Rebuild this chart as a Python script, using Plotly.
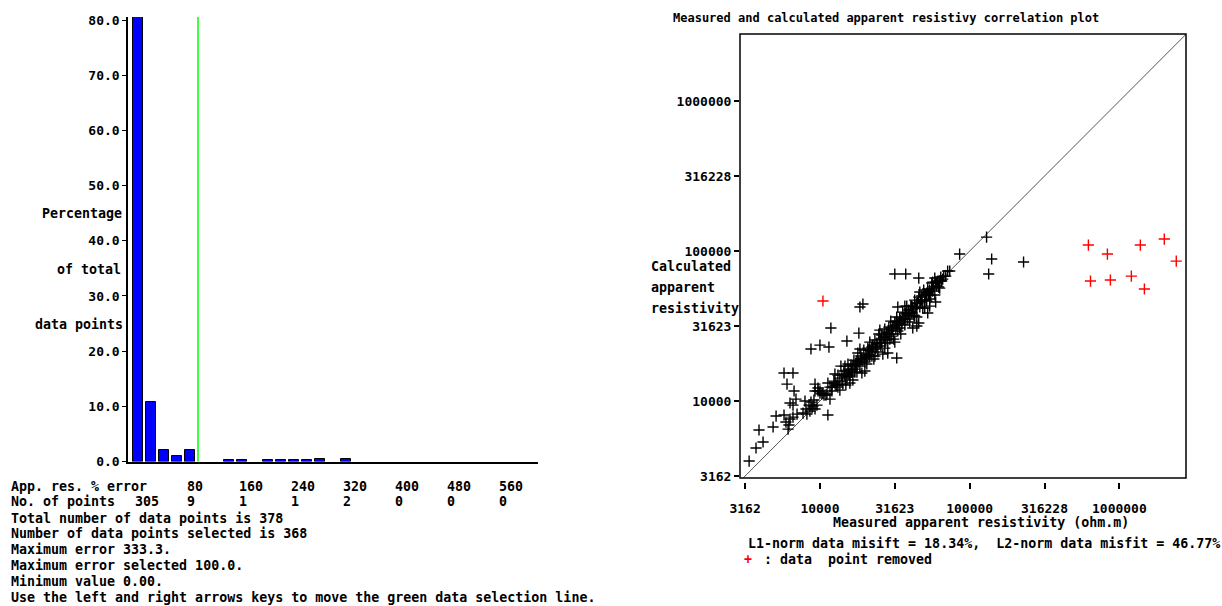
import plotly.graph_objects as go

W, H = 1222, 606
FONT = "DejaVu Sans Mono"

# ---------------- Histogram data (percentage of data points per 20% error bin)
bin_lower = [0, 20, 40, 60, 80, 140, 160, 200, 220, 240, 260, 280, 320]
bin_percent = [80.69, 10.85, 2.12, 1.06, 2.12, 0.26, 0.26, 0.26, 0.26, 0.26, 0.26, 0.53, 0.53]
bin_width = 20
y_ticks = [0, 10, 20, 30, 40, 50, 60, 70, 80]
error_labels = [80, 160, 240, 320, 400, 480, 560]
count_positions = [0, 80, 160, 240, 320, 400, 480, 560]
count_labels = ["305", "9", "1", "1", "2", "0", "0", "0"]
selection_error = 100

summary_lines = [
    "Total number of data points is 378",
    "Number of data points selected is 368",
    "Maximum error 333.3.",
    "Maximum error selected 100.0.",
    "Minimum value 0.00.",
    "Use the left and right arrows keys to move the green data selection line.",
]

# ---------------- Correlation plot data (log10 of apparent resistivity, ohm.m)
kept_measured_log10 = [
    3.527, 3.573, 3.620, 3.593, 3.687, 3.707, 3.760, 3.773, 3.800, 3.787, 3.793, 3.820, 3.847, 3.887,
    3.913, 3.933, 3.947, 3.967, 3.953, 3.980, 3.900, 3.800, 3.820, 3.840, 3.780, 3.827, 3.760, 3.820,
    3.940, 4.000, 4.060, 4.180, 4.260, 4.053, 4.073, 4.267, 4.287, 4.500, 4.573, 4.660, 4.513, 4.773,
    4.520, 4.660, 4.620, 4.720, 4.733, 4.820, 4.753, 4.933, 5.113, 5.147, 5.127, 5.360,
    3.907, 3.927, 3.940, 3.960, 3.967, 3.987, 4.000, 4.020, 4.047, 4.453, 4.647,
    3.967, 3.987, 4.000, 4.013, 4.027, 4.040, 4.053, 4.067, 4.080, 4.093,
    4.100, 4.107, 4.120, 4.120, 4.133, 4.140, 4.147, 4.153, 4.160, 4.167,
    4.173, 4.180, 4.187, 4.193, 4.200, 4.207, 4.213, 4.220, 4.227, 4.233,
    4.240, 4.247, 4.253, 4.260, 4.267, 4.273, 4.280, 4.287, 4.293, 4.300,
    4.307, 4.313, 4.320, 4.327, 4.333, 4.340, 4.347, 4.353, 4.360, 4.367,
    4.373, 4.380, 4.387, 4.393, 4.400, 4.407, 4.413, 4.420, 4.427, 4.433,
    4.440, 4.447, 4.453, 4.460, 4.467, 4.473, 4.480, 4.487, 4.493, 4.500,
    4.507, 4.513, 4.520, 4.527, 4.533, 4.540, 4.547, 4.553, 4.560, 4.567,
    4.573, 4.580, 4.587, 4.593, 4.600, 4.607, 4.613, 4.620, 4.627, 4.633,
    4.640, 4.647, 4.653, 4.660, 4.667, 4.673, 4.680, 4.687, 4.693, 4.700,
    4.707, 4.713, 4.720, 4.727, 4.733, 4.740, 4.747, 4.753, 4.760, 4.767,
    4.773, 4.780, 4.787, 4.793, 4.800, 4.807, 4.813, 4.827, 4.840, 4.853, 4.867,
    4.167, 4.193, 4.220, 4.247, 4.273, 4.300, 4.327, 4.353, 4.380, 4.407, 4.433,
    4.460, 4.487, 4.513, 4.540, 4.567, 4.593, 4.620, 4.647, 4.673, 4.700, 4.727,
    4.067, 4.100, 4.133, 4.167, 4.200, 4.233, 4.267, 4.300, 4.333, 4.367, 4.400, 4.433,
    4.467, 4.500, 4.533, 4.567, 4.600, 4.633, 4.667, 4.700, 4.733, 4.767, 4.800,
    4.080, 4.113, 4.147, 4.180, 4.213, 4.247, 4.280, 4.313, 4.347, 4.380, 4.413,
    4.447, 4.480, 4.513, 4.547, 4.580, 4.613, 4.647, 4.680, 4.713, 4.747, 4.780,
]
kept_calculated_log10 = [
    3.600, 3.687, 3.727, 3.807, 3.827, 3.900, 3.907, 3.860, 3.880, 3.813, 3.840, 3.893, 3.913, 3.920,
    3.913, 3.933, 3.953, 3.947, 3.967, 3.973, 4.000, 3.987, 3.973, 4.013, 4.113, 4.067, 4.187, 4.187,
    4.347, 4.373, 4.360, 4.400, 4.453, 3.907, 4.487, 4.627, 4.647, 4.847, 4.847, 4.820, 4.287, 4.660,
    4.627, 4.520, 4.487, 4.587, 4.633, 4.813, 4.793, 4.980, 5.093, 4.947, 4.847, 4.927,
    3.947, 3.973, 3.993, 4.007, 4.113, 4.087, 4.067, 4.053, 4.047, 4.320, 4.500,
    4.067, 4.067, 4.053, 4.047, 4.040, 4.040, 4.120, 4.093, 4.067, 4.133,
    4.180, 4.107, 4.093, 4.173, 4.153, 4.233, 4.133, 4.113, 4.200, 4.173,
    4.107, 4.160, 4.247, 4.213, 4.167, 4.240, 4.207, 4.140, 4.273, 4.213,
    4.253, 4.193, 4.320, 4.260, 4.233, 4.300, 4.187, 4.273, 4.340, 4.260,
    4.313, 4.247, 4.353, 4.307, 4.393, 4.333, 4.300, 4.373, 4.280, 4.407,
    4.347, 4.387, 4.327, 4.447, 4.387, 4.367, 4.440, 4.313, 4.427, 4.480,
    4.407, 4.460, 4.387, 4.493, 4.447, 4.533, 4.433, 4.487, 4.413, 4.527,
    4.480, 4.560, 4.467, 4.520, 4.553, 4.447, 4.513, 4.593, 4.547, 4.507,
    4.587, 4.633, 4.547, 4.587, 4.527, 4.633, 4.587, 4.627, 4.573, 4.673,
    4.620, 4.560, 4.653, 4.693, 4.627, 4.660, 4.700, 4.620, 4.740, 4.673,
    4.707, 4.667, 4.747, 4.713, 4.740, 4.707, 4.787, 4.733, 4.760, 4.707,
    4.793, 4.767, 4.800, 4.760, 4.800, 4.827, 4.800, 4.833, 4.833, 4.867, 4.867,
    4.167, 4.180, 4.233, 4.240, 4.280, 4.287, 4.340, 4.347, 4.360, 4.413, 4.427,
    4.447, 4.500, 4.507, 4.540, 4.547, 4.607, 4.613, 4.653, 4.673, 4.713, 4.707,
    4.013, 4.120, 4.073, 4.233, 4.120, 4.193, 4.347, 4.200, 4.300, 4.300, 4.473, 4.353,
    4.413, 4.393, 4.487, 4.633, 4.567, 4.567, 4.727, 4.620, 4.680, 4.820, 4.753,
    4.093, 4.107, 4.173, 4.180, 4.193, 4.267, 4.280, 4.293, 4.360, 4.380, 4.393,
    4.453, 4.473, 4.533, 4.533, 4.580, 4.633, 4.620, 4.673, 4.720, 4.747, 4.787,
]
removed_measured_log10 = [4.020, 5.793, 5.920, 6.140, 6.300, 6.380, 5.807, 5.940, 6.080, 6.167]
removed_calculated_log10 = [4.667, 5.040, 4.980, 5.040, 5.080, 4.933, 4.800, 4.807, 4.833, 4.747]

res_tick_values = [3162, 10000, 31623, 100000, 316228, 1000000]
res_tick_labels = ["3162", "10000", "31623", "100000", "316228", "1000000"]
axis_log_range = [3.466, 6.445]
axis_log_range_y = [3.487, 6.447]

kept_measured = [10 ** v for v in kept_measured_log10]
kept_calculated = [10 ** v for v in kept_calculated_log10]
removed_measured = [10 ** v for v in removed_measured_log10]
removed_calculated = [10 ** v for v in removed_calculated_log10]


def px_x(p):
    return p / W


def px_y(p):
    return 1 - p / H


fig = go.Figure()

# histogram bars
fig.add_trace(go.Bar(
    x=[b + 0.38 * bin_width for b in bin_lower], y=bin_percent, width=0.76 * bin_width,
    marker=dict(color="#0000FF", line=dict(color="#000000", width=1)),
    xaxis="x", yaxis="y", showlegend=False, hoverinfo="skip",
))

# one-to-one line
diag = [10 ** 3.3, 10 ** 6.6]
fig.add_trace(go.Scatter(
    x=diag, y=diag, mode="lines", line=dict(color="#555555", width=1),
    xaxis="x2", yaxis="y2", showlegend=False, hoverinfo="skip",
))
fig.add_trace(go.Scatter(
    x=kept_measured, y=kept_calculated, mode="markers",
    marker=dict(symbol="cross-thin", size=8, line=dict(color="#000000", width=1.4)),
    xaxis="x2", yaxis="y2", showlegend=False,
))
fig.add_trace(go.Scatter(
    x=removed_measured, y=removed_calculated, mode="markers",
    marker=dict(symbol="cross-thin", size=8, line=dict(color="#FF0000", width=1.4)),
    xaxis="x2", yaxis="y2", showlegend=False,
))

tickfont = dict(family=FONT, size=13, color="#000000", weight="bold")

fig.update_layout(
    width=W, height=H, margin=dict(l=0, r=0, t=0, b=0, autoexpand=False),
    paper_bgcolor="white", plot_bgcolor="white",
    bargap=0,
    xaxis=dict(domain=[px_x(128), px_x(538)], range=[-7.7, 623], showgrid=False, zeroline=False,
               showticklabels=False, ticks="", showline=True, linecolor="#000000", linewidth=1.5,
               anchor="y", fixedrange=True, automargin=False),
    yaxis=dict(domain=[px_y(461.5), px_y(17)], range=[0, 80.55], showgrid=False, zeroline=False,
               tickvals=y_ticks, tickformat=".1f", ticks="outside", ticklen=4, tickcolor="#000000",
               showline=True, linecolor="#000000", linewidth=1.5, tickfont=tickfont,
               anchor="x", fixedrange=True, automargin=False),
    xaxis2=dict(domain=[px_x(740), px_x(1186)], type="log", range=axis_log_range,
                showgrid=False, zeroline=False, showline=False,
                tickvals=res_tick_values, ticktext=res_tick_labels,
                ticks="outside", ticklen=6, tickcolor="#000000", tickwidth=1.5,
                tickfont=tickfont, anchor="free", position=px_y(482), ticklabelstandoff=8,
                fixedrange=True, automargin=False),
    yaxis2=dict(domain=[px_y(478), px_y(34)], type="log", range=axis_log_range_y,
                showgrid=False, zeroline=False, showline=False,
                tickvals=res_tick_values, ticktext=res_tick_labels,
                ticks="outside", ticklen=5, tickcolor="#000000", tickwidth=1.5,
                tickfont=tickfont, anchor="x2", fixedrange=True, automargin=False),
)

shapes = [
    dict(type="line", xref="x", yref="y domain", x0=selection_error, x1=selection_error, y0=0, y1=1,
         line=dict(color="#00FF00", width=1.5)),
    dict(type="rect", xref="x2 domain", yref="y2 domain", x0=0, x1=1, y0=0, y1=1,
         line=dict(color="#000000", width=1.5)),
]
fig.update_layout(shapes=shapes)

ann = []


def text(x, y, s, anchor="left", size=13.3, color="#000000", xref="paper", weight="bold"):
    ann.append(dict(x=x, y=px_y(y), xref=xref, yref="paper", text=s, showarrow=False,
                    xanchor=anchor, yanchor="middle",
                    font=dict(family=FONT, size=size, color=color, weight=weight)))


# left side labels
text(px_x(124), 213, "Percentage", "right")
text(px_x(123), 269, "of total", "right")
text(px_x(125), 324, "data points", "right")
text(px_x(9), 486, "App. res. % error")
for v in error_labels:
    text(v, 486, str(v), xref="x")
text(px_x(9), 501, "No. of points")
for v, c in zip(count_positions, count_labels):
    text(v, 501, c, xref="x")
for i, line in enumerate(summary_lines):
    text(px_x(9), 518 + i * 15.8, line)

# right side labels
text(px_x(886), 18, "Measured and calculated apparent resistivy correlation plot", "center", size=12)
text(px_x(649), 266, "Calculated")
text(px_x(649), 287, "apparent")
text(px_x(649), 308, "resistivity")
text(px_x(981), 522, "Measured apparent resistivity (ohm.m)", "center")
text(px_x(746), 543, "L1-norm data misift = 18.34%,  L2-norm data misfit = 46.77%")
text(px_x(742), 559, "+", color="#FF0000")
text(px_x(762), 559, ": data  point removed")

fig.update_layout(annotations=ann)

fig.write_html("out.html", config={"displayModeBar": False},
               post_script="document.body.style.margin='0px';")
